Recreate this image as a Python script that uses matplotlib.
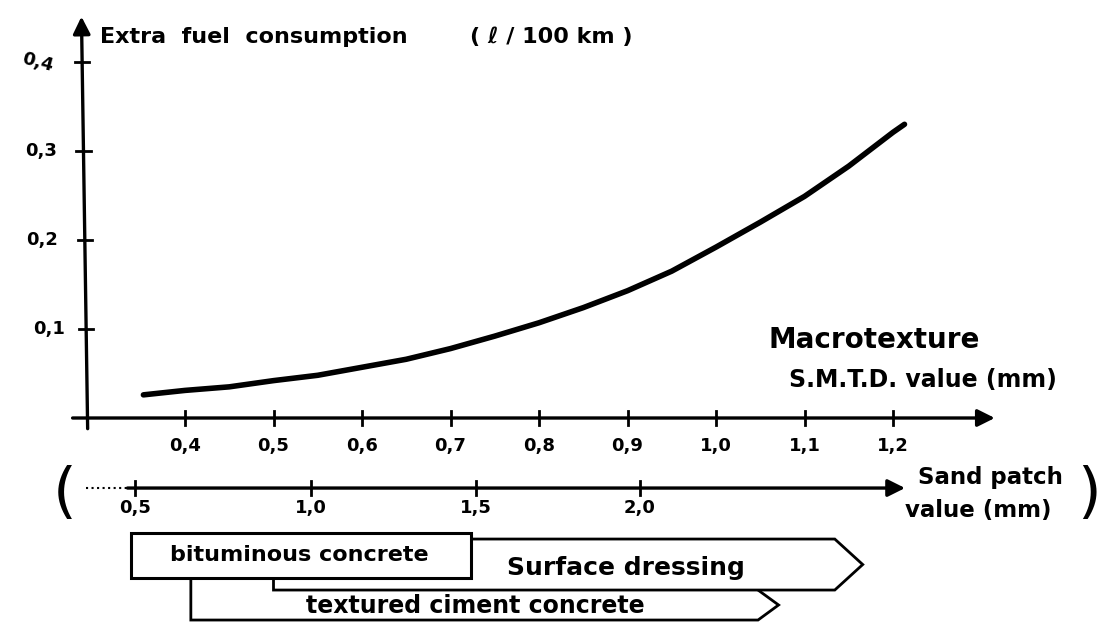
import numpy as np
import matplotlib
matplotlib.use("Agg")
import matplotlib.pyplot as plt
from matplotlib.patches import Polygon, Rectangle

plt.rcParams["font.family"] = "DejaVu Sans"
plt.rcParams["font.weight"] = "bold"

# -----------------------------
# Data
# -----------------------------
smtd = [0.353, 0.4, 0.45, 0.5, 0.55, 0.6, 0.65, 0.7, 0.75, 0.8, 0.85, 0.9,
        0.95, 1.0, 1.05, 1.1, 1.15, 1.2, 1.213]                      # mm
fuel = [0.026, 0.031, 0.035, 0.042, 0.048, 0.057, 0.066, 0.078, 0.092, 0.107, 0.124, 0.143,
        0.165, 0.192, 0.220, 0.249, 0.283, 0.321, 0.330]              # l/100 km

smtd_ticks = [0.4, 0.5, 0.6, 0.7, 0.8, 0.9, 1.0, 1.1, 1.2]
smtd_labels = ["0,4", "0,5", "0,6", "0,7", "0,8", "0,9", "1,0", "1,1", "1,2"]
fuel_ticks = [0.1, 0.2, 0.3, 0.4]
fuel_labels = ["0,1", "0,2", "0,3", "0,4"]

# sand patch scale, ticks given at their S.M.T.D. equivalent
sand_labels = ["0,5", "1,0", "1,5", "2,0"]
sand_at_smtd = [0.3435, 0.542, 0.729, 0.914]

# surface types: range on the S.M.T.D. scale
surfaces = ["bituminous concrete", "Surface dressing", "textured ciment concrete"]
surf_start = [0.3385, 0.500, 0.4066]
surf_end = [0.7232, 1.1658, 1.0707]

# -----------------------------
# Figure: one axes over the whole canvas
# -----------------------------
fig = plt.figure(figsize=(11.02, 6.29), dpi=100)
ax = fig.add_axes([0, 0, 1, 1])
ax.set_xlim(0.4 - 185 / 885, 0.4 + (1102 - 185) / 885)
ax.set_ylim(-(629 - 418) / 890, 418 / 890)
ax.axis("off")

K = "black"
arrow = dict(arrowstyle="-|>", color=K, lw=2.4, mutation_scale=26, shrinkA=0, shrinkB=0)

# axes lines with arrows (y axis leans a little, as drawn by hand)
y_top, y_bot = 0.283, 0.290
ax.annotate("", xy=(y_top, 0.451), xytext=(y_bot, -0.012), arrowprops=arrow)
ax.annotate("", xy=(1.315, 0.0), xytext=(0.273, 0.0), arrowprops=arrow)

dx = 0.008
dy = 0.008
for t, lab in zip(fuel_ticks, fuel_labels):
    xa = y_bot + (y_top - y_bot) * (t + 0.012) / 0.463
    ax.plot([xa - dx, xa + dx], [t, t], color=K, lw=2)
    ax.text(xa - 0.030 + (0.006 if t < 0.15 else 0), t, lab, ha="right", va="center",
            fontsize=13, rotation=-15 if t > 0.35 else 0)
for t, lab in zip(smtd_ticks, smtd_labels):
    ax.plot([t, t], [-dy, dy], color=K, lw=2)
    ax.text(t, -0.032, lab, ha="center", va="center", fontsize=13)

# fuel curve
ax.plot(smtd, fuel, color=K, lw=4, solid_capstyle="round", solid_joinstyle="round")

# titles
ax.text(0.304, 0.428, "Extra  fuel  consumption", ha="left", va="center", fontsize=16)
ax.text(0.722, 0.428, "( ℓ / 100 km )", ha="left", va="center", fontsize=16)
ax.text(1.059, 0.0876, "Macrotexture", ha="left", va="center", fontsize=20)
ax.text(1.083, 0.0427, "S.M.T.D. value (mm)", ha="left", va="center", fontsize=17)

# sand patch axis
sand_y = -0.0787
ax.plot([0.2881, 0.335], [sand_y, sand_y], color=K, lw=1.5, ls=":")
ax.annotate("", xy=(1.2136, sand_y), xytext=(0.335, sand_y), arrowprops=arrow)
for t, lab in zip(sand_at_smtd, sand_labels):
    ax.plot([t, t], [sand_y - dy, sand_y + dy], color=K, lw=2)
    ax.text(t, -0.101, lab, ha="center", va="center", fontsize=13)
ax.text(1.228, -0.0663, "Sand patch", ha="left", va="center", fontsize=16.5)
ax.text(1.214, -0.1034, "value (mm)", ha="left", va="center", fontsize=16.5)
ax.text(0.2645, -0.086, "(", ha="center", va="center", fontsize=44, fontweight="normal")
ax.text(1.4215, -0.086, ")", ha="center", va="center", fontsize=44, fontweight="normal")

# surface type boxes
row_top = [-0.1292, -0.1360, -0.1798]
row_bot = [-0.1798, -0.1933, -0.2270]
tip_len = [0.0, 0.0316, 0.0232]

# textured ciment concrete (drawn first, under the others)
i = 2
x0, x1, t = surf_start[i], surf_end[i], tip_len[i]
ymid = -0.2101
tex = Polygon([(x0, row_top[i]), (x1 - t, row_top[i]), (x1 - t, -0.1933), (x1, ymid),
               (x1 - t, row_bot[i]), (x0, row_bot[i])], closed=True,
              facecolor="white", edgecolor=K, lw=2, zorder=2)
ax.add_patch(tex)
ax.text(0.7277, -0.2115, surfaces[i], ha="center", va="center", fontsize=17, zorder=5)

# surface dressing
i = 1
x0, x1, t = surf_start[i], surf_end[i], tip_len[i]
ymid = (row_top[i] + row_bot[i]) / 2
sd = Polygon([(x0, row_top[i]), (x1 - t, row_top[i]), (x1, ymid),
              (x1 - t, row_bot[i]), (x0, row_bot[i])], closed=True,
             facecolor="white", edgecolor=K, lw=2, zorder=3)
ax.add_patch(sd)
ax.text(0.8977, -0.1685, surfaces[i], ha="center", va="center", fontsize=18, zorder=5)

# bituminous concrete
i = 0
x0, x1 = surf_start[i], surf_end[i]
bc = Rectangle((x0, row_bot[i]), x1 - x0, row_top[i] - row_bot[i],
               facecolor="white", edgecolor=K, lw=2.2, zorder=4)
ax.add_patch(bc)
ax.text(0.5288, -0.154, surfaces[i], ha="center", va="center", fontsize=16, zorder=5)

fig.savefig("out.png", dpi=100, facecolor="white")
